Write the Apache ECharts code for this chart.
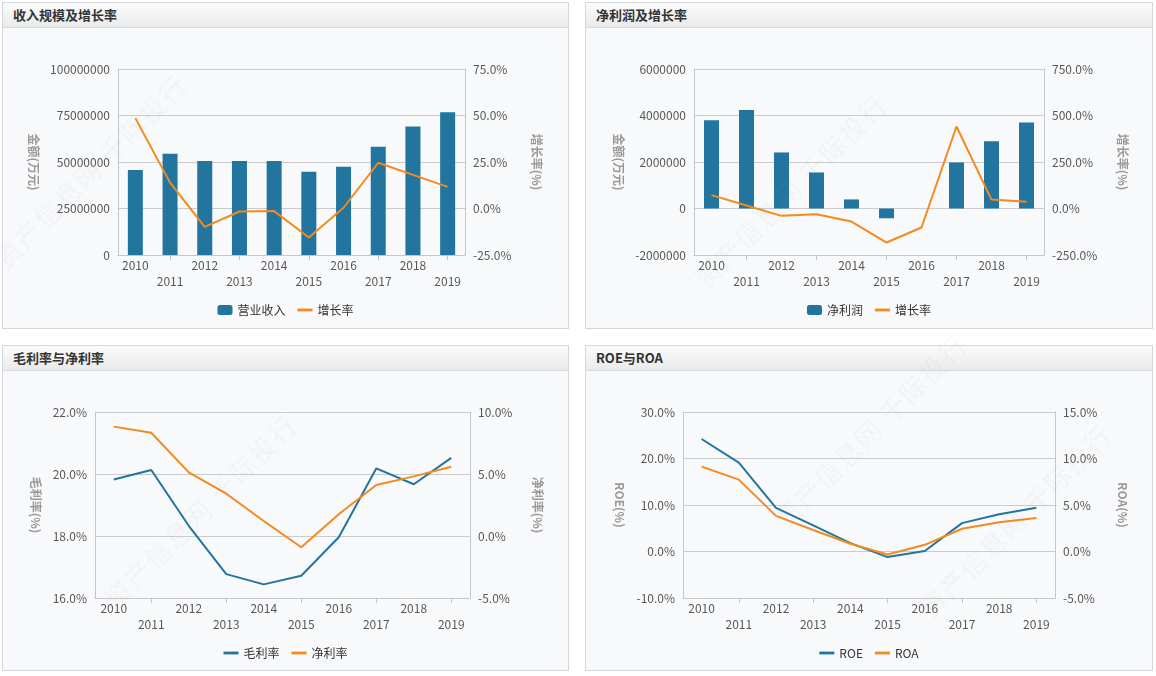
<!DOCTYPE html>
<html>
<head>
<meta charset="utf-8">
<script src="https://cdn.jsdelivr.net/npm/echarts@6/dist/echarts.min.js"></script>
<style>
  html, body { margin:0; padding:0; background:#ffffff; width:1156px; height:676px; overflow:hidden; font-family:"Noto Sans CJK SC","Noto Sans",sans-serif; }
  .panel { position:absolute; box-sizing:border-box; border:1px solid #d4d6d9; background:#f8f9fb; }
  .hdr { position:absolute; left:0; top:0; right:0; height:24px; border-bottom:1px solid #d9dadc;
         background:linear-gradient(#fbfbfb,#e9eaeb); font-size:13px; font-weight:bold; color:#333; line-height:24px; padding-left:10px; }
  .chart { position:absolute; left:0; top:0; width:100%; height:100%; }
  .wm { position:absolute; font-size:26px; color:rgba(150,150,150,0.07); white-space:nowrap; transform:translate(-50%,-50%) rotate(-45deg); pointer-events:none; letter-spacing:2px; }
</style>
</head>
<body>
<div class="panel" style="left:2px;top:2px;width:567px;height:327px;"><div class="hdr">收入规模及增长率</div><div class="chart" id="c1"></div></div>
<div class="panel" style="left:585px;top:2px;width:568px;height:327px;"><div class="hdr">净利润及增长率</div><div class="chart" id="c2"></div></div>
<div class="panel" style="left:2px;top:345px;width:567px;height:326px;"><div class="hdr">毛利率与净利率</div><div class="chart" id="c3"></div></div>
<div class="panel" style="left:585px;top:345px;width:568px;height:326px;"><div class="hdr">ROE与ROA</div><div class="chart" id="c4"></div></div>
<div class="wm" style="left:200px;top:510px;">资产信息网 千际投行</div>
<div class="wm" style="left:1015px;top:520px;">资产信息网 千际投行</div>
<div class="wm" style="left:790px;top:190px;">资产信息网 千际投行</div>
<div class="wm" style="left:870px;top:430px;">资产信息网 千际投行</div>
<div class="wm" style="left:90px;top:170px;">资产信息网 千际投行</div>
<script>
const years = ['2010','2011','2012','2013','2014','2015','2016','2017','2018','2019'];

const revenue = [45750000, 54400000, 50600000, 50600000, 50600000, 44700000, 47400000, 58200000, 69100000, 76700000];
const revenueGrowth = [48.6, 13.9, -9.9, -1.6, -1.4, -15.6, 0.4, 24.6, 18.1, 11.6];

const netProfit = [3800000, 4240000, 2410000, 1550000, 390000, -420000, 0, 1980000, 2890000, 3700000];
const profitGrowth = [71.8, 16, -39.5, -30.5, -70, -183, -102, 441, 48, 36];

const grossMargin = [19.82, 20.13, 18.33, 16.77, 16.44, 16.72, 17.96, 20.18, 19.67, 20.52];
const netMargin = [8.82, 8.33, 5.13, 3.41, 1.21, -0.91, 1.75, 4.11, 4.81, 5.59];

const roe = [24.2, 19.1, 9.4, 5.6, 1.8, -1.2, 0.1, 6.1, 8.0, 9.4];
const roa = [9.13, 7.73, 3.83, 2.31, 0.83, -0.32, 0.72, 2.45, 3.14, 3.61];

// axis ranges [min, max, interval]
const revAxis = [0, 100000000, 25000000];
const revGrowthAxis = [-25, 75, 25];
const profitAxis = [-2000000, 6000000, 2000000];
const profitGrowthAxis = [-250, 750, 250];
const grossAxis = [16, 22, 2];
const netMarginAxis = [-5, 10, 5];
const roeAxis = [-10, 30, 10];
const roaAxis = [-5, 15, 5];

const BLUE = '#21759f';
const ORANGE = '#f5891d';
const FONT = '"Noto Sans CJK SC","Noto Sans",sans-serif';
const pct = v => v.toFixed(1) + '%';
const plain = v => String(v);
const LINE_ICON = 'path://M0,0L16,0L16,3L0,3Z';

function yAx(range, name, gap, fmt, isRight) {
  return {
    type:'value', min:range[0], max:range[1], interval:range[2],
    position: isRight ? 'right' : 'left',
    name:name, nameLocation:'middle', nameRotate:-90, nameGap:gap,
    nameTextStyle:{color:'#9a9a9a', fontWeight:'bold', fontSize:12, fontFamily:FONT},
    axisLine:{show:true, lineStyle:{color:'#c4c6c8'}},
    axisTick:{show:false},
    splitLine:{show:!isRight, lineStyle:{color:'#c9cbcd'}},
    axisLabel:{color:'#585858', fontSize:12, margin:8, fontFamily:FONT, formatter:fmt}
  };
}
function xAx() {
  return {
    type:'category', data:years, boundaryGap:true,
    axisLine:{onZero:false, lineStyle:{color:'#c4c6c8'}},
    axisTick:{show:true, alignWithLabel:true, interval:(i)=> i%2===1, length:5, lineStyle:{color:'#c4c6c8'}},
    axisLabel:{interval:0, color:'#585858', fontSize:12, margin:2, lineHeight:16, fontFamily:FONT,
               formatter:(v,i)=> (i%2 ? '\n' + v : v)}
  };
}
function legend(items) {
  return { top:296, left:'center', itemWidth:15, itemHeight:10, itemGap:12,
           textStyle:{color:'#333', fontSize:12, fontFamily:FONT},
           data: items.map(it => it.line ? {name:it.name, icon:LINE_ICON} : {name:it.name, icon:'roundRect'}) };
}

const c1 = echarts.init(document.getElementById('c1'), null, {renderer:'canvas'});
c1.setOption({
  animation:false,
  grid:{left:115, top:66, width:347, height:186},
  legend: legend([{name:'营业收入'},{name:'增长率', line:true}]),
  xAxis: xAx(),
  yAxis: [yAx(revAxis,'金额(万元)',64,plain,false), yAx(revGrowthAxis,'增长率(%)',66,pct,true)],
  series:[
    {name:'营业收入', type:'bar', data:revenue, barWidth:15, itemStyle:{color:BLUE}},
    {name:'增长率', type:'line', yAxisIndex:1, data:revenueGrowth, symbol:'none', lineStyle:{color:ORANGE, width:2}, itemStyle:{color:ORANGE}}
  ]
});

const c2 = echarts.init(document.getElementById('c2'), null, {renderer:'canvas'});
c2.setOption({
  animation:false,
  grid:{left:108, top:66, width:350, height:186},
  legend: legend([{name:'净利润'},{name:'增长率', line:true}]),
  xAxis: xAx(),
  yAxis: [yAx(profitAxis,'金额(万元)',62,plain,false), yAx(profitGrowthAxis,'增长率(%)',73,pct,true)],
  series:[
    {name:'净利润', type:'bar', data:netProfit, barWidth:15, itemStyle:{color:BLUE}},
    {name:'增长率', type:'line', yAxisIndex:1, data:profitGrowth, symbol:'none', lineStyle:{color:ORANGE, width:2}, itemStyle:{color:ORANGE}}
  ]
});

const c3 = echarts.init(document.getElementById('c3'), null, {renderer:'canvas'});
c3.setOption({
  animation:false,
  grid:{left:92, top:66, width:375, height:186},
  legend: legend([{name:'毛利率', line:true},{name:'净利率', line:true}]),
  xAxis: xAx(),
  yAxis: [yAx(grossAxis,'毛利率(%)',52,pct,false), yAx(netMarginAxis,'净利率(%)',62,pct,true)],
  series:[
    {name:'毛利率', type:'line', data:grossMargin, symbol:'none', lineStyle:{color:BLUE, width:2}, itemStyle:{color:BLUE}},
    {name:'净利率', type:'line', yAxisIndex:1, data:netMargin, symbol:'none', lineStyle:{color:ORANGE, width:2}, itemStyle:{color:ORANGE}}
  ]
});

const c4 = echarts.init(document.getElementById('c4'), null, {renderer:'canvas'});
c4.setOption({
  animation:false,
  grid:{left:97, top:66, width:372, height:186},
  legend: legend([{name:'ROE', line:true},{name:'ROA', line:true}]),
  xAxis: xAx(),
  yAxis: [yAx(roeAxis,'ROE(%)',57,pct,false), yAx(roaAxis,'ROA(%)',62,pct,true)],
  series:[
    {name:'ROE', type:'line', data:roe, symbol:'none', lineStyle:{color:BLUE, width:2}, itemStyle:{color:BLUE}},
    {name:'ROA', type:'line', yAxisIndex:1, data:roa, symbol:'none', lineStyle:{color:ORANGE, width:2}, itemStyle:{color:ORANGE}}
  ]
});
</script>
</body>
</html>
